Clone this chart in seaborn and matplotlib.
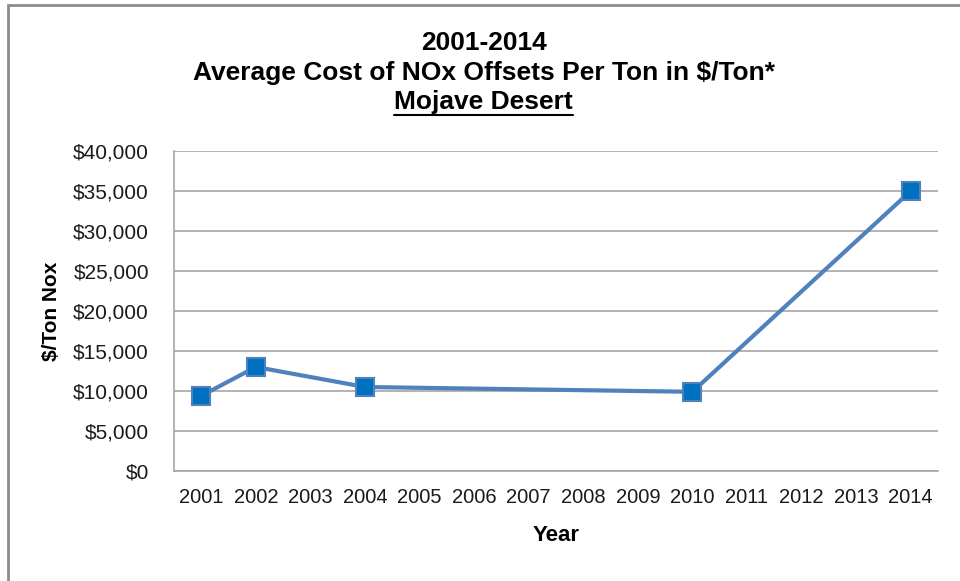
import matplotlib.pyplot as plt
from matplotlib.patches import Rectangle
import seaborn as sns
import pandas as pd

# data
all_years = list(range(2001, 2015))
years = [2001, 2002, 2004, 2010, 2014]
cost = [9400, 13000, 10500, 9900, 35000]
y_ticks = [0, 5000, 10000, 15000, 20000, 25000, 30000, 35000, 40000]

df = pd.DataFrame({'Year': years, 'Cost': cost})

sns.set_style('white')
plt.rcParams['font.family'] = ['Liberation Sans', 'DejaVu Sans']
plt.rcParams['text.color'] = 'black'
plt.rcParams['axes.labelcolor'] = 'black'

fig = plt.figure(figsize=(9.6, 5.81), dpi=100)
ax = fig.add_axes([174/960, 1 - 471/581, (938 - 174)/960, (471 - 151)/581])

sns.lineplot(data=df, x='Year', y='Cost', ax=ax, color='#4F81BD', linewidth=3,
             marker='s', markersize=13, markerfacecolor='#0070C0',
             markeredgecolor='#4F81BD', markeredgewidth=1.5, zorder=3)

ax.set_xlim(2000.5, 2014.5)
ax.set_ylim(0, 40000)
ax.set_xticks(all_years)
ax.set_xticklabels([str(y) for y in all_years], fontsize=14.5, color='#1a1a1a')
ax.set_yticks(y_ticks)
ax.set_yticklabels(['${:,}'.format(v) for v in y_ticks], fontsize=15, color='#1a1a1a')
ax.tick_params(axis='x', length=0, pad=12)
ax.tick_params(axis='y', length=0, pad=18)
ax.grid(axis='y', color='#A6A6A6', linewidth=1.2)
ax.set_axisbelow(True)

for s in ['top', 'right']:
    ax.spines[s].set_visible(False)
for s in ['left', 'bottom']:
    ax.spines[s].set_color('#A6A6A6')
    ax.spines[s].set_linewidth(1.2)

ax.set_xlabel('Year', fontsize=16, fontweight='bold')
ax.set_ylabel('$/Ton Nox', fontsize=15, fontweight='bold')
ax.xaxis.set_label_coords(0.5, (471 - 525) / 320)
ax.yaxis.set_label_coords((61 - 174) / 764, 0.5)

title_size = 19
fig.text(0.504, 1 - 43/581, '2001-2014', ha='center', va='center',
         fontsize=title_size, fontweight='bold')
fig.text(0.504, 1 - 73/581, 'Average Cost of NOx Offsets Per Ton in $/Ton*',
         ha='center', va='center', fontsize=title_size, fontweight='bold')
t = fig.text(0.504, 1 - 102/581, 'Mojave Desert', ha='center', va='center',
             fontsize=title_size, fontweight='bold')

# underline for last title line
fig.canvas.draw()
bb = t.get_window_extent()
fig.add_artist(plt.Line2D([bb.x0 / 960, bb.x1 / 960],
                          [(bb.y0 - 1) / 581, (bb.y0 - 1) / 581],
                          color='black', linewidth=1.5))

# outer chart border
fig.add_artist(Rectangle((8/960, -0.1), 1.2, 1 - 5/581 + 0.1,
                         transform=fig.transFigure, fill=False,
                         edgecolor='#8C8C8C', linewidth=2))

fig.savefig('out.png', dpi=100)
